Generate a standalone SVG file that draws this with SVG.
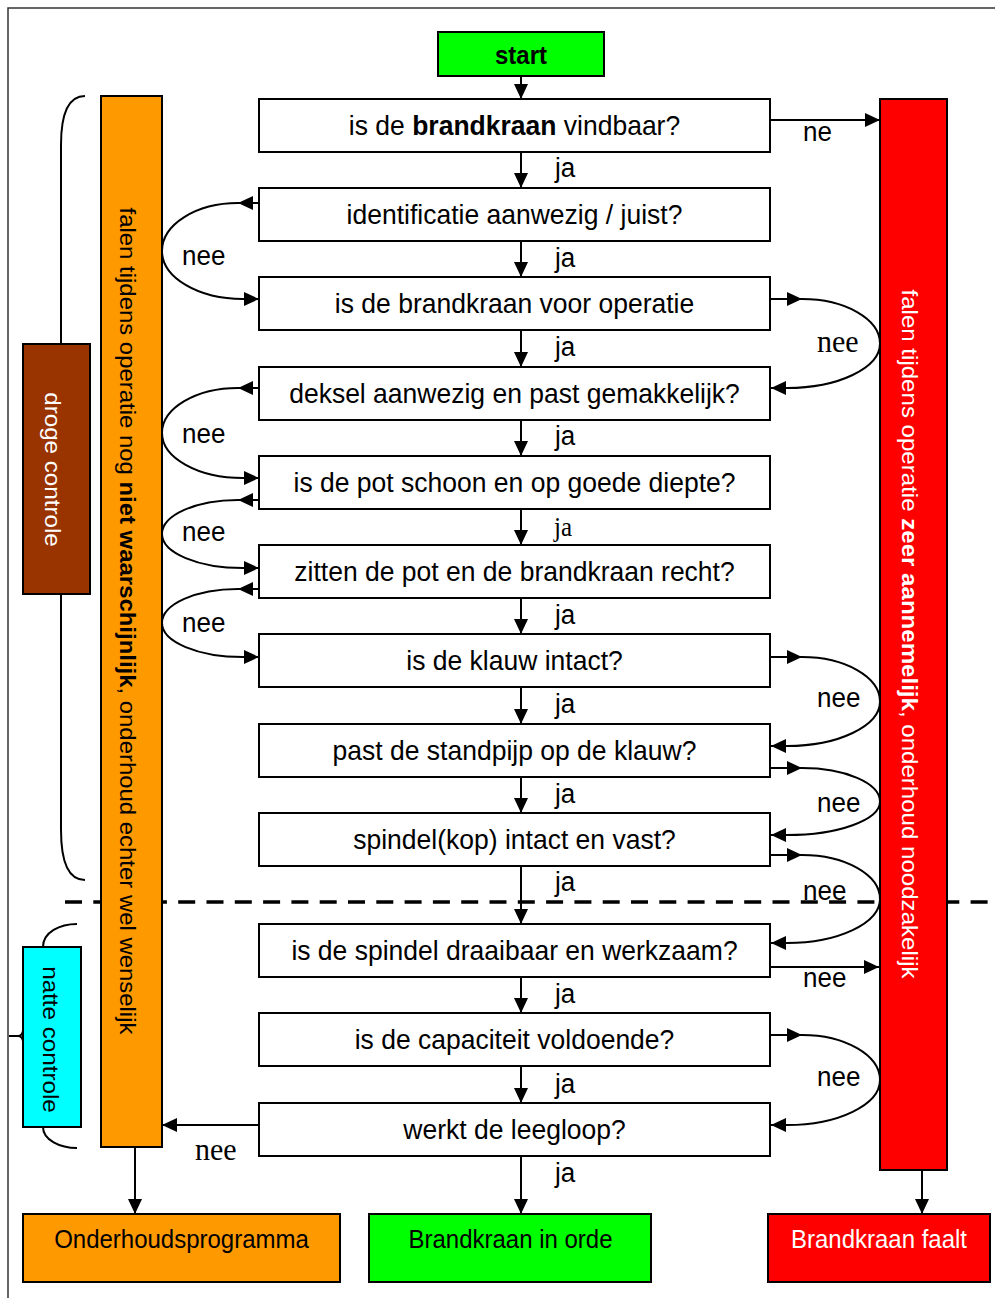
<svg xmlns="http://www.w3.org/2000/svg" width="995" height="1298" viewBox="0 0 995 1298">
<defs>
<marker id="ah" markerUnits="userSpaceOnUse" markerWidth="16" markerHeight="14" refX="15" refY="7" orient="auto" viewBox="0 0 16 14"><path d="M0,0 L15,7 L0,14 z" fill="#000"/></marker>
<style>
.box{fill:#fff;stroke:#000;stroke-width:2}
.bar{stroke:#000;stroke-width:2}
.t{font-family:"Liberation Sans",Arial,sans-serif;font-size:26.5px;text-anchor:middle;fill:#000}
.lbl{font-family:"Liberation Sans",Arial,sans-serif;font-size:26px;fill:#000}
.ser{font-family:"Liberation Serif","Times New Roman",serif;font-size:30px;fill:#000}
.vt{font-family:"Liberation Sans",Arial,sans-serif;font-size:22px;text-anchor:middle}
.bt{font-family:"Liberation Sans",Arial,sans-serif;font-size:24px;text-anchor:middle}
.c{fill:none;stroke:#000;stroke-width:2;marker-end:url(#ah)}
.br{fill:none;stroke:#000;stroke-width:2}
</style>
</defs>
<rect width="995" height="1298" fill="#fff"/>
<rect x="8" y="8" width="1000" height="1300" fill="none" stroke="#333" stroke-width="1.5"/>
<g id="braces">
<path class="br" d="M85,96 C70,96 61,110 61,145 L61,830 C61,865 70,880 85,880"/>
<path class="br" d="M77,924 C60,924 43,932 43,947 L43,1127 C43,1140 60,1148 77,1148"/>
<path class="br" d="M9,1036 L20,1036 M23,1031 Q22,1036 18,1036 Q22,1036 23,1041"/>
</g>
<line id="divider" x1="65" y1="902" x2="995" y2="902" stroke="#000" stroke-width="3.5" stroke-dasharray="17 11.3"/>
<g id="orange-bar"><rect class="bar" x="101" y="96" width="61" height="1051" fill="#FF9900"/>
<text class="vt" fill="#000" transform="matrix(0 1.088 -1 0 120 621)">falen tijdens operatie nog <tspan font-weight="bold">niet waarschijnlijk</tspan>, onderhoud echter wel wenselijk</text></g>
<g id="red-bar"><rect class="bar" x="880" y="99" width="67" height="1071" fill="#FF0000"/>
<text class="vt" fill="#fff" transform="matrix(0 1.095 -1 0 902 634)">falen tijdens operatie <tspan font-weight="bold">zeer aannemelijk</tspan>, onderhoud noodzakelijk</text></g>
<g id="droge"><rect class="bar" x="23" y="344" width="67" height="250" fill="#993300"/>
<text class="vt" fill="#fff" transform="matrix(0 1.1 -1 0 45 469.5)">droge controle</text></g>
<g id="natte"><rect class="bar" x="23" y="947" width="58" height="180" fill="#00FFFF"/>
<text class="vt" fill="#000" transform="matrix(0 1.1 -1 0 43 1039.5)">natte controle</text></g>
<g id="start"><rect class="bar" x="438" y="32" width="166" height="44" fill="#00FF00"/>
<text class="bt" font-weight="bold" transform="matrix(1 0 0 1.07 521 64)">start</text></g>
<g id="q1"><rect class="box" x="259" y="99" width="511" height="53"/><text class="t" transform="matrix(1 0 0 1.07 514.5 134.5)">is de <tspan font-weight="bold">brandkraan</tspan> vindbaar?</text></g>
<g id="q2"><rect class="box" x="259" y="188" width="511" height="53"/><text class="t" transform="matrix(1 0 0 1.07 514.5 223.5)">identificatie aanwezig / juist?</text></g>
<g id="q3"><rect class="box" x="259" y="277" width="511" height="53"/><text class="t" transform="matrix(1 0 0 1.07 514.5 312.5)">is de brandkraan voor operatie</text></g>
<g id="q4"><rect class="box" x="259" y="367" width="511" height="53"/><text class="t" transform="matrix(1 0 0 1.07 514.5 402.5)">deksel aanwezig en past gemakkelijk?</text></g>
<g id="q5"><rect class="box" x="259" y="456" width="511" height="53"/><text class="t" transform="matrix(1 0 0 1.07 514.5 491.5)">is de pot schoon en op goede diepte?</text></g>
<g id="q6"><rect class="box" x="259" y="545" width="511" height="53"/><text class="t" transform="matrix(1 0 0 1.07 514.5 580.5)">zitten de pot en de brandkraan recht?</text></g>
<g id="q7"><rect class="box" x="259" y="634" width="511" height="53"/><text class="t" transform="matrix(1 0 0 1.07 514.5 669.5)">is de klauw intact?</text></g>
<g id="q8"><rect class="box" x="259" y="724" width="511" height="53"/><text class="t" transform="matrix(1 0 0 1.07 514.5 759.5)">past de standpijp op de klauw?</text></g>
<g id="q9"><rect class="box" x="259" y="813" width="511" height="53"/><text class="t" transform="matrix(1 0 0 1.07 514.5 848.5)">spindel(kop) intact en vast?</text></g>
<g id="q10"><rect class="box" x="259" y="924" width="511" height="53"/><text class="t" transform="matrix(1 0 0 1.07 514.5 959.5)">is de spindel draaibaar en werkzaam?</text></g>
<g id="q11"><rect class="box" x="259" y="1013" width="511" height="53"/><text class="t" transform="matrix(1 0 0 1.07 514.5 1048.5)">is de capaciteit voldoende?</text></g>
<g id="q12"><rect class="box" x="259" y="1103" width="511" height="53"/><text class="t" transform="matrix(1 0 0 1.07 514.5 1138.5)">werkt de leegloop?</text></g>
<g id="onderhoud"><rect class="bar" x="23" y="1214" width="317" height="68" fill="#FF9900"/><text class="bt" fill="#000" transform="matrix(1 0 0 1.07 181.5 1248)">Onderhoudsprogramma</text></g>
<g id="inorde"><rect class="bar" x="369" y="1214" width="282" height="68" fill="#00FF00"/><text class="bt" fill="#000" transform="matrix(1 0 0 1.07 510.5 1248)">Brandkraan in orde</text></g>
<g id="faalt"><rect class="bar" x="768" y="1214" width="222" height="68" fill="#FF0000"/><text class="bt" fill="#fff" transform="matrix(1 0 0 1.07 879 1248)">Brandkraan faalt</text></g>
<g id="connectors">
<path class="c" d="M521,76 L521,99"/>
<path class="c" d="M521,152 L521,188"/>
<path class="c" d="M521,241 L521,277"/>
<path class="c" d="M521,330 L521,367"/>
<path class="c" d="M521,420 L521,456"/>
<path class="c" d="M521,509 L521,545"/>
<path class="c" d="M521,598 L521,634"/>
<path class="c" d="M521,687 L521,724"/>
<path class="c" d="M521,777 L521,813"/>
<path class="c" d="M521,866 L521,924"/>
<path class="c" d="M521,977 L521,1013"/>
<path class="c" d="M521,1066 L521,1103"/>
<path class="c" d="M521,1156 L521,1214"/>
<path class="c" d="M770,120 L880,120"/>
<path class="c" d="M770,967 L879,967"/>
<path class="c" d="M259,1125 L162,1125"/>
<path class="c" d="M135,1147 L135,1214"/>
<path class="c" d="M922,1170 L922,1214"/>
<path class="c" d="M259,203 L238,203"/>
<path class="c" d="M238,203 C196,203 162,224.5 162,251 C162,277.5 198,299 243,299 L259,299"/>
<path class="c" d="M259,388 L238,388"/>
<path class="c" d="M238,388 C196,388 162,408.2 162,433 C162,457.8 198,478 243,478 L259,478"/>
<path class="c" d="M259,500 L238,500"/>
<path class="c" d="M238,500 C196,500 162,515.2 162,534 C162,552.8 198,568 243,568 L259,568"/>
<path class="c" d="M259,589 L238,589"/>
<path class="c" d="M238,589 C196,589 162,604.2 162,623 C162,641.8 198,657 243,657 L259,657"/>
<path class="c" d="M770,299 L802,299"/>
<path class="c" d="M802,299 C845,299 880,318.9 880,343.5 C880,368.1 838,388 787,388 L771,388"/>
<path class="c" d="M770,657 L802,657"/>
<path class="c" d="M802,657 C845,657 880,676.9 880,701.5 C880,726.1 838,746 787,746 L771,746"/>
<path class="c" d="M770,768 L802,768"/>
<path class="c" d="M802,768 C845,768 880,783 880,801.5 C880,820 838,835 787,835 L771,835"/>
<path class="c" d="M770,855 L802,855"/>
<path class="c" d="M802,855 C845,855 880,874.7 880,899 C880,923.3 838,943 787,943 L771,943"/>
<path class="c" d="M770,1035 L802,1035"/>
<path class="c" d="M802,1035 C845,1035 880,1055.2 880,1080 C880,1104.8 838,1125 787,1125 L771,1125"/>
</g>
<g id="labels">
<text class="lbl" transform="matrix(1 0 0 1.07 555 177)">ja</text>
<text class="lbl" transform="matrix(1 0 0 1.07 555 267)">ja</text>
<text class="lbl" transform="matrix(1 0 0 1.07 555 356)">ja</text>
<text class="lbl" transform="matrix(1 0 0 1.07 555 445)">ja</text>
<text class="ser" style="font-size:25px" transform="matrix(1 0 0 1.07 554 536)">ja</text>
<text class="lbl" transform="matrix(1 0 0 1.07 555 624)">ja</text>
<text class="lbl" transform="matrix(1 0 0 1.07 555 713)">ja</text>
<text class="lbl" transform="matrix(1 0 0 1.07 555 803)">ja</text>
<text class="lbl" transform="matrix(1 0 0 1.07 555 891)">ja</text>
<text class="lbl" transform="matrix(1 0 0 1.07 555 1003)">ja</text>
<text class="lbl" transform="matrix(1 0 0 1.07 555 1093)">ja</text>
<text class="lbl" transform="matrix(1 0 0 1.07 555 1182)">ja</text>
<text class="lbl" transform="matrix(1 0 0 1.07 803 141)">ne</text>
<text class="lbl" transform="matrix(1 0 0 1.07 182 265)">nee</text>
<text class="lbl" transform="matrix(1 0 0 1.07 182 443)">nee</text>
<text class="lbl" transform="matrix(1 0 0 1.07 182 541)">nee</text>
<text class="lbl" transform="matrix(1 0 0 1.07 182 632)">nee</text>
<text class="ser" transform="matrix(1 0 0 1.07 817 352)">nee</text>
<text class="lbl" transform="matrix(1 0 0 1.07 817 707)">nee</text>
<text class="lbl" transform="matrix(1 0 0 1.07 817 812)">nee</text>
<text class="lbl" transform="matrix(1 0 0 1.07 803 900)">nee</text>
<text class="lbl" transform="matrix(1 0 0 1.07 803 987)">nee</text>
<text class="lbl" transform="matrix(1 0 0 1.07 817 1086)">nee</text>
<text class="ser" transform="matrix(1 0 0 1.07 195 1160)">nee</text>
</g>
</svg>
